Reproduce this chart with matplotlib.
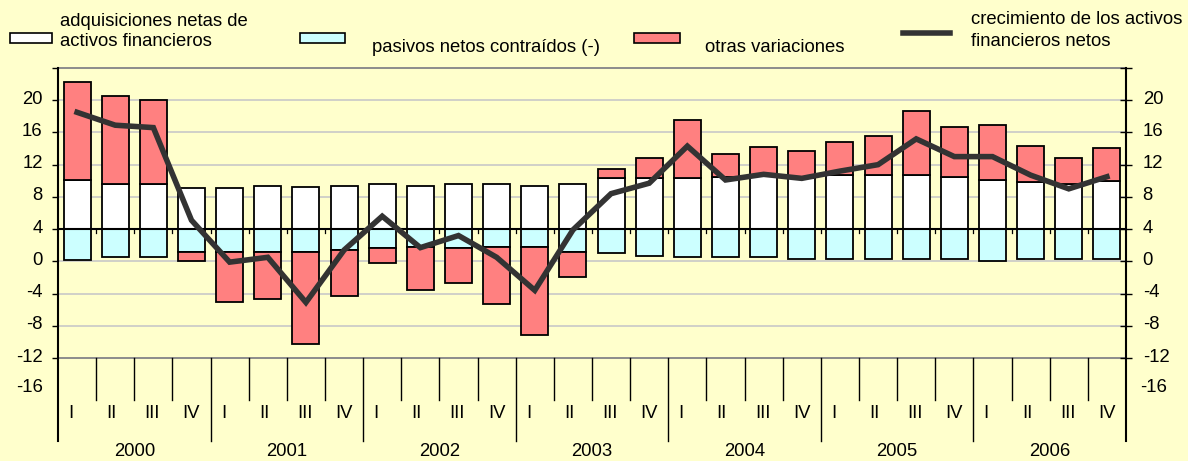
import numpy as np
import matplotlib
matplotlib.use('Agg')
import matplotlib.pyplot as plt
import matplotlib.transforms as mtransforms
from matplotlib.patches import Rectangle

plt.rcParams['font.family'] = ['Liberation Sans', 'DejaVu Sans']
FS = 13.3
plt.rcParams['font.size'] = FS

years = ['2000', '2001', '2002', '2003', '2004', '2005', '2006']
quarters = ['I', 'II', 'III', 'IV']

# values measured from the category axis (printed scale is shifted by +4)
adquisiciones = [6.1, 5.6, 5.6, 5.1, 5.1, 5.3, 5.2, 5.4, 5.6, 5.4, 5.6, 5.6, 5.4, 5.6,
                 6.3, 6.3, 6.3, 6.5, 6.6, 6.3, 6.7, 6.7, 6.7, 6.5, 6.1, 5.8, 5.6, 6.0]
pasivos = [-3.8, -3.5, -3.5, -2.9, -2.8, -2.8, -2.9, -2.6, -2.4, -2.2, -2.4, -2.2, -2.2, -2.8,
           -3.0, -3.3, -3.5, -3.5, -3.5, -3.7, -3.7, -3.7, -3.7, -3.7, -3.9, -3.7, -3.7, -3.7]
otras = [12.1, 10.9, 10.4, -1.0, -6.3, -5.9, -11.4, -5.7, -1.8, -5.4, -4.3, -7.1, -11.0, -3.1,
         1.1, 2.5, 7.3, 2.8, 3.6, 3.4, 4.1, 4.9, 8.0, 6.2, 6.8, 4.5, 3.2, 4.1]
crecimiento = [14.5, 12.9, 12.6, 1.1, -4.1, -3.5, -9.1, -2.6, 1.6, -2.3, -0.8, -3.5, -7.6, -0.1,
               4.4, 5.7, 10.3, 6.1, 6.8, 6.3, 7.2, 8.0, 11.2, 9.0, 9.0, 6.7, 5.0, 6.5]
shift = 4
tick_vals = [-16, -12, -8, -4, 0, 4, 8, 12, 16, 20]

BG = '#FFFFCC'
RED = '#FF8080'
CYAN = '#CCFFFF'
LINE = '#333333'

W, H = 1188, 461
fig = plt.figure(figsize=(W / 100, H / 100), dpi=100, facecolor=BG)
L, R, T, B = 58, 1126, 68, 358
ax = fig.add_axes([L / W, 1 - B / H, (R - L) / W, (B - T) / H], facecolor=BG)

n = len(adquisiciones)
x = np.arange(n)
adq = np.array(adquisiciones)
pas = np.array(pasivos)
otr = np.array(otras)
bw = 0.71

ax.bar(x, adq, bw, color='white', edgecolor='black', lw=1.3, zorder=3)
ax.bar(x, pas, bw, color=CYAN, edgecolor='black', lw=1.3, zorder=3)
ax.bar(x, otr, bw, bottom=np.where(otr > 0, adq, pas), color=RED, edgecolor='black', lw=1.3, zorder=3)
ax.plot(x, crecimiento, color=LINE, lw=4, zorder=5, solid_joinstyle='miter')

ax.set_xlim(-0.5, n - 0.5)
ax.set_ylim(-16, 20)

# grid
for v in tick_vals[1:-1]:
    if v != 0:
        ax.axhline(v, color='#C8C8C8', lw=1.2, zorder=1)
ax.axhline(0, color='black', lw=1.5, zorder=4)
for k in range(1, n):
    ax.plot([k - 0.5, k - 0.5], [0, -0.5], color='black', lw=0.9, zorder=4)

for s in ['top', 'bottom']:
    ax.spines[s].set_color('#8C8C8C')
    ax.spines[s].set_linewidth(1.4)
for s in ['left', 'right']:
    ax.spines[s].set_visible(False)

ax.set_xticks([])
ax.set_yticks(tick_vals)
labels = [str(v + shift) if v < 20 else '' for v in tick_vals]
ax.set_yticklabels(labels)
ax.tick_params(axis='y', direction='out', length=4, width=1, pad=7, labelsize=FS)

ax2 = ax.twinx()
ax2.set_ylim(-16, 20)
ax2.set_yticks(tick_vals)
ax2.set_yticklabels(labels)
ax2.tick_params(axis='y', direction='inout', length=8, width=1, pad=8, labelsize=FS)
for s in ['top', 'bottom', 'left', 'right']:
    ax2.spines[s].set_visible(False)

off = mtransforms.ScaledTranslation(0, 3 / 100, fig.dpi_scale_trans)
for lab in ax.get_yticklabels() + ax2.get_yticklabels():
    lab.set_transform(lab.get_transform() + off)

# extra -16 labels under the plot
ax.text(-0.5, -20, '-16', ha='right', va='center', clip_on=False).set_transform(
    mtransforms.offset_copy(ax.transData, fig=fig, x=-15, y=3, units='dots'))
ax.text(n - 0.5, -20, '-16', ha='left', va='center', clip_on=False).set_transform(
    mtransforms.offset_copy(ax.transData, fig=fig, x=14, y=3, units='dots'))

# category table below the axes
tr = mtransforms.blended_transform_factory(ax.transData, ax.transAxes)
low_q = -(400 - B) / (B - T)
low_y = -(441 - B) / (B - T)
for k in range(0, n + 1):
    y0 = low_y if k % 4 == 0 else low_q
    lw = 1.5 if k in (0, n) else 1.0
    ax.plot([k - 0.5, k - 0.5], [1 if k in (0, n) else 0, y0], color='black', lw=lw,
            transform=tr, clip_on=False, zorder=6)
for k in range(n):
    ax.text(k - 0.5 + 0.27, -(413 - B) / (B - T), quarters[k % 4], transform=tr,
            ha='left', va='center', fontsize=FS)
for j, yr in enumerate(years):
    ax.text(4 * j + 1.5, -(452 - B) / (B - T), yr, transform=tr, ha='center',
            va='center', fontsize=FS)

# legend drawn in pixel space
lg = fig.add_axes([0, 0, 1, 1])
lg.set_xlim(0, W)
lg.set_ylim(H, 0)
lg.axis('off')
lg.patch.set_visible(False)
lg.add_patch(Rectangle((10, 33), 42, 10, facecolor='white', edgecolor='black', lw=1.2))
lg.text(60, 21, 'adquisiciones netas de', ha='left', va='center', fontsize=FS)
lg.text(60, 42, 'activos financieros', ha='left', va='center', fontsize=FS)
lg.add_patch(Rectangle((300, 33), 45, 10, facecolor=CYAN, edgecolor='black', lw=1.2))
lg.text(372, 47, 'pasivos netos contraídos (-)', ha='left', va='center', fontsize=FS)
lg.add_patch(Rectangle((634, 33), 46, 10, facecolor=RED, edgecolor='black', lw=1.2))
lg.text(705, 47, 'otras variaciones', ha='left', va='center', fontsize=FS)
lg.plot([903, 950], [33, 33], color=LINE, lw=4)
lg.text(971, 20, 'crecimiento de los activos', ha='left', va='center', fontsize=FS)
lg.text(971, 41, 'financieros netos', ha='left', va='center', fontsize=FS)

fig.savefig('out.png', dpi=100, facecolor=BG)
